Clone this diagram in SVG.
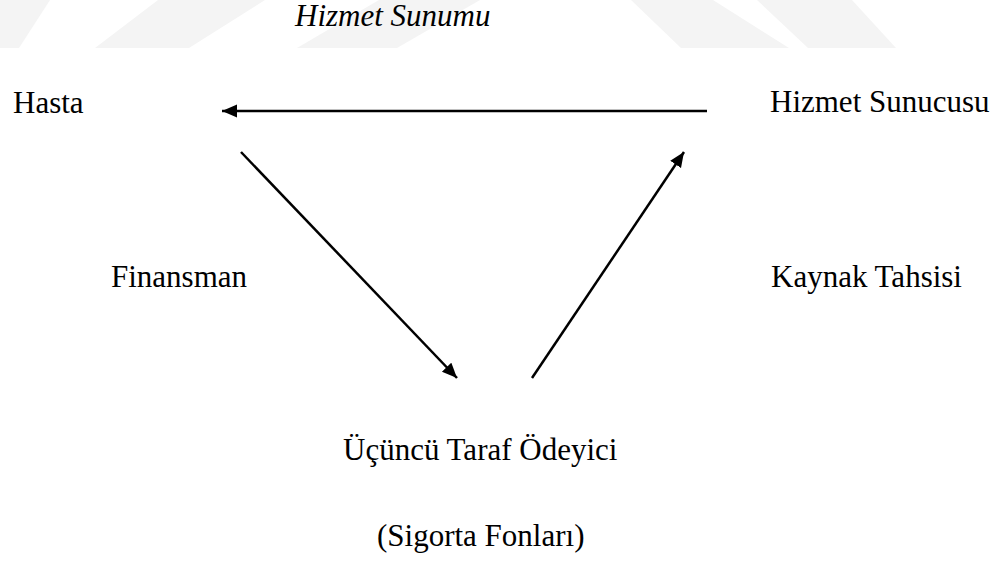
<svg xmlns="http://www.w3.org/2000/svg" width="1003" height="562" viewBox="0 0 1003 562">
  <style>
    .lbl { font-family: "Liberation Serif", "Times New Roman", serif; font-size: 31px; fill: #000; }
    .it { font-style: italic; }
    .conn { stroke: #000; stroke-width: 2.5; fill: none; marker-end: url(#ah); }
    .wm { fill: #f4f4f4; }
  </style>
  <defs>
    <marker id="ah" markerUnits="userSpaceOnUse" markerWidth="16" markerHeight="14" refX="15" refY="6.5" orient="auto">
      <path d="M0,0 L15,6.5 L0,13 Z" fill="#000"/>
    </marker>
  </defs>
  <rect width="1003" height="562" fill="#fff"/>
  <g id="watermark">
    <polygon class="wm" points="0,0 50,0 19,48 0,48"/>
    <polygon class="wm" points="158,0 265,0 189,48 95,48"/>
    <polygon class="wm" points="379,0 480,0 397,48 297,48"/>
    <polygon class="wm" points="631,0 713,0 789,48 681,48"/>
    <polygon class="wm" points="757,0 852,0 896,48 808,48"/>
  </g>
  <g id="connectors">
    <line class="conn" x1="707" y1="111" x2="222" y2="111"/>
    <line class="conn" x1="241" y1="152" x2="457" y2="378"/>
    <line class="conn" x1="532" y1="378" x2="684" y2="152"/>
  </g>
  <g id="label-hizmet-sunumu"><text class="lbl it" x="295" y="26">Hizmet Sunumu</text></g>
  <g id="node-hasta"><text class="lbl" x="13" y="113">Hasta</text></g>
  <g id="node-hizmet-sunucusu"><text class="lbl" x="770" y="112">Hizmet Sunucusu</text></g>
  <g id="label-finansman"><text class="lbl" x="111" y="287">Finansman</text></g>
  <g id="label-kaynak-tahsisi"><text class="lbl" x="771" y="287">Kaynak Tahsisi</text></g>
  <g id="node-ucuncu-taraf">
    <text class="lbl" x="343" y="460">Üçüncü Taraf Ödeyici</text>
    <text class="lbl" x="377" y="546">(Sigorta Fonları)</text>
  </g>
</svg>
